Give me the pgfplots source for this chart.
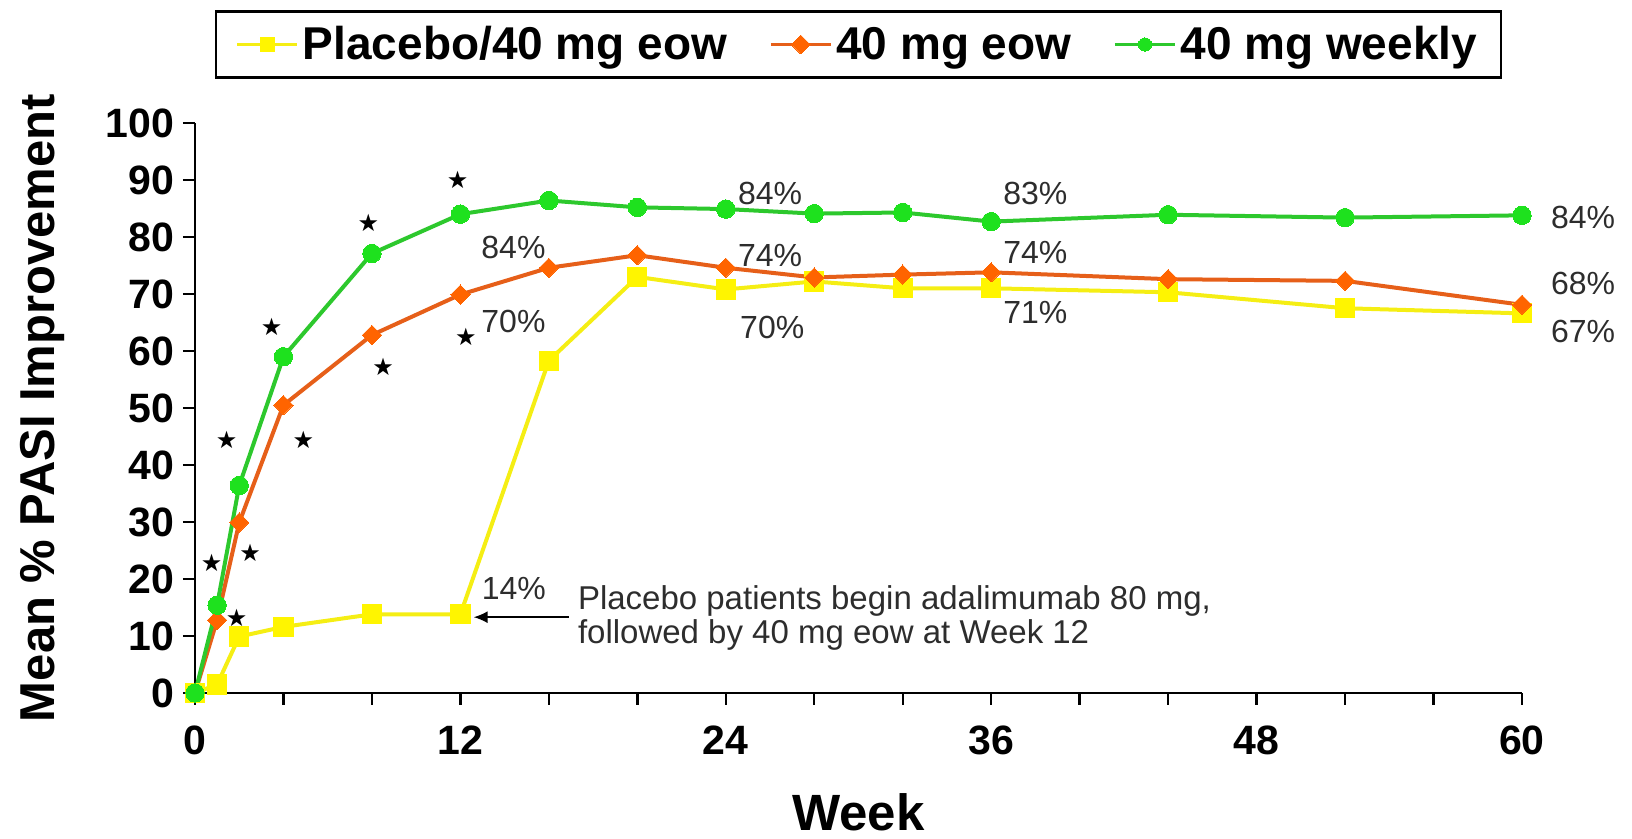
\documentclass[border=0pt]{standalone}
\usepackage{fontspec}
\setmainfont{Liberation Sans}
\newfontfamily\starfont{DejaVu Sans}
\usepackage{pgfplots}
\pgfplotsset{compat=1.18}
\usetikzlibrary{arrows.meta}
\definecolor{grn}{RGB}{30,225,30}
\definecolor{grnl}{RGB}{45,200,45}
\definecolor{org}{RGB}{255,100,0}
\definecolor{orgl}{RGB}{230,95,25}
\definecolor{yel}{RGB}{255,245,0}
\definecolor{yell}{RGB}{245,238,20}
\definecolor{txt}{RGB}{45,45,45}
\begin{document}
\begin{tikzpicture}
\useasboundingbox (0,0) rectangle (816pt,419.5pt);
\begin{axis}[
  at={(97.5pt,73pt)}, anchor=south west,
  scale only axis, width=663.5pt, height=285pt,
  xmin=0, xmax=60, ymin=0, ymax=100,
  axis x line*=bottom, axis y line*=left,
  clip=false,
  xtick={0,12,...,60},
  minor xtick={4,8,16,20,28,32,40,44,52,56},
  ytick={0,10,...,100},
  tick align=outside,
  major tick length=6pt, minor tick length=6pt,
  every tick/.style={black, line width=1.2pt},
  every minor tick/.style={black, line width=1.2pt},
  axis line style={black, line width=1.3pt},
  /pgf/number format/assume math mode=true,
  tick label style={font=\bfseries\fontsize{20.5}{24}\selectfont},
  xticklabel shift=7pt,
  yticklabel shift=1pt,
  xlabel={Week},
  ylabel={Mean \% PASI Improvement},
  xlabel style={at={(axis description cs:0.5,-0.2088)}, anchor=center, font=\bfseries\fontsize{25.5}{28}\selectfont},
  ylabel style={at={(axis description cs:-0.1151,0.5)}, anchor=center, font=\bfseries\fontsize{24.5}{28}\selectfont},
  legend style={at={(0.5,1.198)}, anchor=north, legend columns=-1, draw=black, line width=1.2pt,
    font=\bfseries\fontsize{23}{26}\selectfont, inner xsep=10pt, inner ysep=5.5pt,
    /tikz/every even column/.append style={column sep=19pt}},
  legend image code/.code={\draw[mark repeat=2,mark phase=2,#1,line width=1.5pt,mark size=3.3pt] plot coordinates {(0pt,0pt)(15pt,0pt)(30pt,0pt)};},
]
\addplot[color=yell, line width=2pt, mark=square*, mark size=4.8pt, mark options={fill=yel, draw=yel, line width=0pt}]
coordinates {(0,0)(1,1.5)(2,9.9)(4,11.6)(8,13.8)(12,13.8)(16,58.3)(20,73)(24,70.8)(28,72.2)(32,71)(36,71)(44,70.3)(52,67.5)(60,66.6)};
\addlegendentry{Placebo/40 mg eow}
\addplot[color=orgl, line width=2pt, mark=square*, mark size=3.4pt, mark options={rotate=45, fill=org, draw=org, line width=0pt}]
coordinates {(0,0)(1,12.8)(2,29.9)(4,50.5)(8,62.8)(12,69.9)(16,74.6)(20,76.8)(24,74.6)(28,72.9)(32,73.4)(36,73.8)(44,72.6)(52,72.3)(60,68.1)};
\addlegendentry{40 mg eow}
\addplot[color=grnl, line width=2pt, mark=*, mark size=4.6pt, mark options={fill=grn, draw=grn, line width=0pt}]
coordinates {(0,0)(1,15.4)(2,36.4)(4,59)(8,77.1)(12,84)(16,86.4)(20,85.2)(24,84.9)(28,84.1)(32,84.3)(36,82.7)(44,83.9)(52,83.4)(60,83.8)};
\addlegendentry{40 mg weekly}
\addplot[only marks, mark=text, text mark={\fontsize{12}{12}\starfont ★}, color=txt, forget plot]
coordinates {(0.75,22.8)(1.88,13.1)(2.49,24.5)(1.43,44.4)(4.9,44.4)(3.47,64.3)(8.51,57.2)(7.84,82.5)(11.88,90.1)(12.25,62.4)};
\begin{scope}[every node/.style={font=\fontsize{16}{16}\selectfont, text=txt, inner sep=0pt}]
\node at (axis cs:26.0,87.7) {84\%};
\node at (axis cs:14.4,78.1) {84\%};
\node at (axis cs:26.0,76.8) {74\%};
\node at (axis cs:14.4,65.1) {70\%};
\node at (axis cs:26.1,64.2) {70\%};
\node[anchor=west] at (axis cs:12.95,18.4) {14\%};
\node at (axis cs:38.0,87.7) {83\%};
\node at (axis cs:38.0,77.3) {74\%};
\node at (axis cs:38.0,66.8) {71\%};
\node[anchor=west] at (axis cs:61.3,83.5) {84\%};
\node[anchor=west] at (axis cs:61.3,71.9) {68\%};
\node[anchor=west] at (axis cs:61.3,63.5) {67\%};
\node[anchor=west, align=left, font=\fontsize{16.5}{17}\selectfont] at (axis cs:17.3,13.2) {Placebo patients begin adalimumab 80 mg,\\followed by 40 mg eow at Week 12};
\end{scope}
\draw[-{Latex[length=7pt,width=6pt]}, line width=0.8pt, black] (axis cs:16.9,13.3) -- (axis cs:12.6,13.3);
\end{axis}
\end{tikzpicture}
\end{document}
